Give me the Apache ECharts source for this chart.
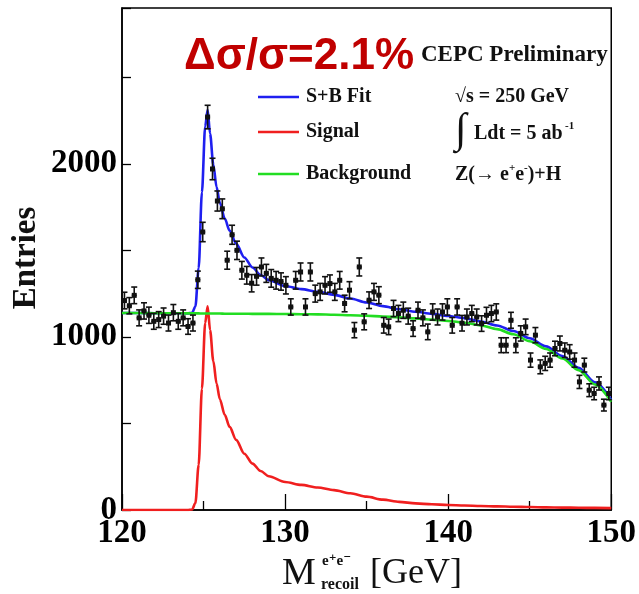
<!DOCTYPE html>
<html>
<head>
<meta charset="utf-8">
<script src="https://cdn.jsdelivr.net/npm/echarts@6/dist/echarts.min.js"></script>
<style>
  html, body { margin: 0; padding: 0; background: #fff; }
  #chart { width: 639px; height: 594px; }
</style>
</head>
<body>
<div id="chart"></div>
<script>
// Histogram binning of the recoil mass (GeV)
const binLow = 120;
const binWidth = 0.3;

// Entries per bin
const counts = [
  1210, 1180, 1240, 1110, 1150, 1125, 1090, 1100, 1120, 1080,
  1140, 1090, 1110, 1060, 1080, 1330, 1606, 2270, 1970, 1785,
  1740, 1443, 1590, 1500, 1385, 1356, 1310, 1350, 1404, 1367,
  1338, 1327, 1320, 1298, 1173, 1327, 1375, 1173, 1375, 1250,
  1260, 1298, 1308, 1260, 1327, 1193, 1270, 1039, 1404, 1087,
  1212, 1260, 1241, 1067, 1058, 1164, 1135, 1154, 1120, 1048,
  1154, 1110, 1029, 1144, 1115, 1144, 1173, 1067, 1173, 1079,
  1115, 1135, 1115, 1077, 1125, 1135, 1144, 952, 952, 1096,
  952, 1020, 1058, 866, 1010, 827, 847, 866, 933, 962,
  923, 913, 866, 740, 837, 692, 673, 731, 606, 673
];

// Uncertainty on each bin
const countErrs = [
  48, 47, 48, 46, 47, 47, 46, 46, 47, 46, 47, 46, 46, 45, 46,
  50, 56, 68, 62, 58, 57, 52, 55, 53,
  51, 51, 50, 51, 52, 52, 51, 51, 50, 50, 47, 51, 52, 47, 52, 49, 49, 50, 50, 49, 51, 48, 49, 44, 52, 46,
  48, 49, 49, 45, 45, 47, 47, 47, 46, 45, 47, 46, 45, 47, 46, 47, 47, 45, 47, 45, 46, 47, 46, 45,
  46, 47, 47, 43, 43, 46, 43, 44, 45, 41, 44, 40, 41, 41, 42, 43, 42, 42, 41, 38, 40, 37, 36, 38, 34, 36
];

// Fit curves sampled along the recoil mass
const curveMass = [
  120, 121, 122, 123, 124, 124.3, 124.5, 124.7, 124.9, 125.1,
  125.25, 125.4, 125.6, 125.8, 126.0, 126.3, 126.6, 127.0, 127.5, 128.0,
  128.5, 129, 130, 131, 132, 133, 134, 135, 136, 137,
  138, 139, 140, 141, 142, 143, 144, 145, 146, 147,
  148, 149, 150
];
const signalFit = [
  0, 0, 0, 0, 0, 3, 40, 260, 700, 1080,
  1177, 1040, 860, 730, 640, 550, 480, 405, 325, 268,
  225, 195, 162, 145, 130, 115, 97, 77, 60, 47,
  38, 33, 29, 26, 23, 21, 19, 17, 15, 14,
  13, 12, 11
];
const backgroundFit = [
  1138, 1138, 1137, 1137, 1136, 1136, 1136, 1136, 1135, 1135,
  1135, 1135, 1135, 1135, 1135, 1134, 1134, 1134, 1134, 1133,
  1133, 1133, 1132, 1131, 1130, 1128, 1125, 1122, 1118, 1113,
  1107, 1100, 1092, 1082, 1066, 1045, 1015, 975, 930, 875,
  808, 725, 625
];

const seriesNames = ['S+B Fit', 'Signal', 'Background'];
const lineColors = ['#1f1ff0', '#f01f1f', '#22dd22'];

const pointData = counts.map((n, i) => [binLow + binWidth * (i + 0.5), n, countErrs[i]]);
const sbCurve = curveMass.map((m, i) => [m, signalFit[i] + backgroundFit[i]]);
const sigCurve = curveMass.map((m, i) => [m, signalFit[i]]);
const bkgCurve = curveMass.map((m, i) => [m, backgroundFit[i]]);

const serif = '"Liberation Serif", "DejaVu Serif", serif';

// data point: marker, bin-width bar and vertical error bar with end caps
function renderPoint(params, api) {
  const m = api.value(0), n = api.value(1), e = api.value(2);
  const c = api.coord([m, n]);
  const hi = api.coord([m, n + e]);
  const lo = api.coord([m, n - e]);
  const l = api.coord([m - binWidth / 2, n]);
  const r = api.coord([m + binWidth / 2, n]);
  const cap = 3;
  const st = { stroke: '#111', lineWidth: 1.6 };
  return {
    type: 'group',
    children: [
      { type: 'line', shape: { x1: c[0], y1: hi[1], x2: c[0], y2: lo[1] }, style: st },
      { type: 'line', shape: { x1: c[0] - cap, y1: hi[1], x2: c[0] + cap, y2: hi[1] }, style: st },
      { type: 'line', shape: { x1: c[0] - cap, y1: lo[1], x2: c[0] + cap, y2: lo[1] }, style: st },
      { type: 'line', shape: { x1: l[0], y1: c[1], x2: r[0], y2: c[1] }, style: st },
      { type: 'rect', shape: { x: c[0] - 2.5, y: c[1] - 2.5, width: 5, height: 5 }, style: { fill: '#111' } }
    ]
  };
}

function curveSeries(name, data, color) {
  return {
    name, type: 'line', data,
    showSymbol: false, symbol: 'none',
    smooth: 0.3, smoothMonotone: 'x',
    lineStyle: { color, width: 2.6 },
    z: 3
  };
}

const legendRows = [97, 132, 174];

const chart = echarts.init(document.getElementById('chart'), null, { renderer: 'canvas' });
chart.setOption({
  animation: false,
  backgroundColor: '#fff',
  grid: { left: 122, right: 26, top: 8, bottom: 84, show: true, borderColor: '#000', borderWidth: 1.5 },
  xAxis: {
    type: 'value', min: 120, max: 150, interval: 10,
    axisLine: { lineStyle: { color: '#000', width: 1.5 } },
    axisTick: { inside: true, length: 16, lineStyle: { color: '#000', width: 1.3 } },
    minorTick: { show: true, splitNumber: 2, length: 9, lineStyle: { color: '#000', width: 1.3 } },
    splitLine: { show: false },
    axisLabel: { color: '#000', fontFamily: serif, fontWeight: 'bold', fontSize: 33, margin: 7 }
  },
  yAxis: {
    type: 'value', min: 0, max: 2900, interval: 500,
    axisLine: { show: true, lineStyle: { color: '#000', width: 1.5 } },
    axisTick: { show: true, inside: true, length: 9, lineStyle: { color: '#000', width: 1.3 } },
    splitLine: { show: false },
    axisLabel: {
      color: '#000', fontFamily: serif, fontWeight: 'bold', fontSize: 33, margin: 5,
      formatter: v => (v % 1000 === 0 ? String(v) : '')
    }
  },
  series: [
    curveSeries(seriesNames[0], sbCurve, lineColors[0]),
    curveSeries(seriesNames[1], sigCurve, lineColors[1]),
    curveSeries(seriesNames[2], bkgCurve, lineColors[2]),
    {
      name: 'Data', type: 'custom', data: pointData,
      encode: { x: 0, y: 1 }, renderItem: renderPoint, clip: true, z: 5
    }
  ],
  graphic: [
    // legend
    ...legendRows.map((y, i) => ({
      type: 'line', shape: { x1: 258, y1: y, x2: 299, y2: y },
      style: { stroke: lineColors[i], lineWidth: 2.4 }
    })),
    ...legendRows.map((y, i) => ({
      type: 'text', x: 306, y,
      style: { text: seriesNames[i], font: 'bold 20px ' + serif, fill: '#111', verticalAlign: 'middle' }
    })),
    // result and labels
    { type: 'text', x: 184, y: 57,
      style: { text: 'Δσ/σ=2.1%', font: 'bold 44px "Liberation Sans", Arial, sans-serif', fill: '#c00000', verticalAlign: 'middle' } },
    { type: 'text', x: 421, y: 55,
      style: { text: 'CEPC Preliminary', font: 'bold 23px ' + serif, fill: '#111', verticalAlign: 'middle' } },
    { type: 'text', x: 455, y: 97,
      style: { text: '√s = 250 GeV', font: 'bold 20px ' + serif, fill: '#111', verticalAlign: 'middle' } },
    { type: 'text', x: 455, y: 131,
      style: { text: '∫', font: '42px ' + serif, fill: '#111', verticalAlign: 'middle' } },
    { type: 'text', x: 474, y: 134,
      style: { text: 'Ldt = 5 ab', font: 'bold 20px ' + serif, fill: '#111', verticalAlign: 'middle' } },
    { type: 'text', x: 565, y: 126,
      style: { text: '-1', font: 'bold 11px ' + serif, fill: '#111', verticalAlign: 'middle' } },
    { type: 'text', x: 455, y: 174,
      style: {
        text: '{m|Z(→ e}{s|+}{m|e}{s|-}{m|)+H}',
        verticalAlign: 'middle', fill: '#111',
        rich: {
          m: { font: 'bold 20px ' + serif, lineHeight: 22, verticalAlign: 'bottom' },
          s: { font: 'bold 11px ' + serif, lineHeight: 22, verticalAlign: 'top' }
        }
      } },
    // axis titles
    { type: 'text', x: 26, y: 258, rotation: Math.PI / 2,
      style: { text: 'Entries', font: 'bold 33px ' + serif, fill: '#111', align: 'center', verticalAlign: 'middle' } },
    { type: 'text', x: 282, y: 574,
      style: { text: 'M', font: '38px ' + serif, fill: '#111', verticalAlign: 'middle' } },
    { type: 'text', x: 322, y: 561,
      style: { text: 'e⁺e⁻', font: 'bold 15px ' + serif, fill: '#111', verticalAlign: 'middle' } },
    { type: 'text', x: 321, y: 585,
      style: { text: 'recoil', font: 'bold 16px ' + serif, fill: '#111', verticalAlign: 'middle' } },
    { type: 'text', x: 370, y: 574,
      style: { text: '[GeV]', font: '36px ' + serif, fill: '#111', verticalAlign: 'middle' } }
  ]
});
</script>
</body>
</html>
